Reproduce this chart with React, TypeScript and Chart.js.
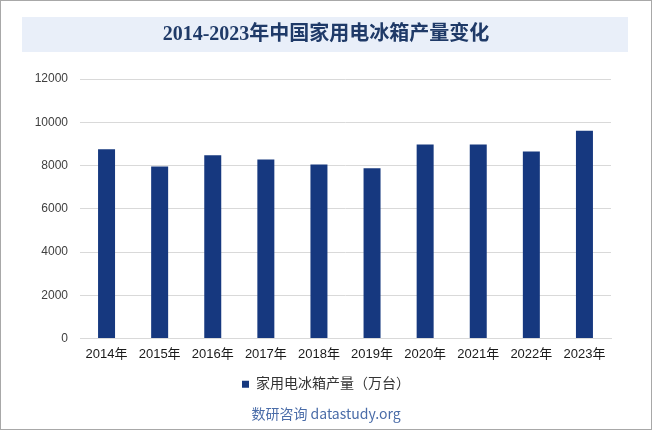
import React, { useEffect, useRef } from "react";
import { Chart, registerables } from "chart.js";

Chart.register(...registerables);

const categories = ["2014年", "2015年", "2016年", "2017年", "2018年", "2019年", "2020年", "2021年", "2022年", "2023年"];
const production = [8750, 7960, 8470, 8280, 8050, 7870, 8970, 8970, 8650, 9610];
const seriesName = "家用电冰箱产量（万台）";
const titleText = "2014-2023年中国家用电冰箱产量变化";
const footerText = "数研咨询 datastudy.org";
const yMax = 12000;
const yStep = 2000;

const SANS = "'Liberation Sans', Arial, 'Noto Sans CJK SC', sans-serif";

const bgPlugin = {
  id: "bgPlugin",
  beforeDraw(chart: any) {
    const { ctx, width, height } = chart;
    ctx.save();
    ctx.fillStyle = "#ffffff";
    ctx.fillRect(0, 0, width, height);
    ctx.fillStyle = "#e9eff9";
    ctx.fillRect(22, 17, 606, 35);
    ctx.strokeStyle = "#a8a8a8";
    ctx.lineWidth = 1;
    ctx.strokeRect(0.5, 0.5, width - 1, height - 1);
    ctx.restore();
  },
};

export default function App() {
  const ref = useRef<HTMLCanvasElement | null>(null);
  useEffect(() => {
    if (!ref.current) return;
    const chart = new Chart(ref.current, {
      type: "bar",
      data: {
        labels: categories,
        datasets: [
          {
            label: seriesName,
            data: production,
            backgroundColor: "#16387f",
            borderWidth: 0,
            categoryPercentage: 1,
            barPercentage: 0.32,
          },
        ],
      },
      options: {
        responsive: false,
        animation: false,
        devicePixelRatio: 1,
        layout: { padding: { left: 0, right: 0, top: 0, bottom: 0 } },
        plugins: {
          title: {
            display: true,
            text: titleText,
            color: "#1f3a68",
            font: { family: "'Liberation Serif', 'Noto Sans CJK SC', serif", size: 20, weight: "bold" },
            padding: { top: 23, bottom: 32 },
          },
          subtitle: {
            display: true,
            position: "bottom",
            text: footerText,
            color: "#4a6ca8",
            font: { family: "'Noto Sans CJK SC', 'Liberation Sans', sans-serif", size: 14, weight: "normal" },
            padding: { top: 4, bottom: 8 },
          },
          legend: {
            display: true,
            position: "bottom",
            labels: {
              color: "#333333",
              font: { family: SANS, size: 14 },
              boxWidth: 7,
              boxHeight: 7,
              padding: 7,
            },
          },
          tooltip: { enabled: false },
        },
        scales: {
          x: {
            grid: { display: false, drawTicks: false },
            border: { display: true, color: "#d9d9d9" },
            ticks: { color: "#1a1a1a", font: { family: SANS, size: 13 }, padding: 8, maxRotation: 0, autoSkip: false },
          },
          y: {
            min: 0,
            max: yMax,
            afterFit(scale: any) {
              scale.width = 80;
            },
            grid: { color: "#d9d9d9", drawTicks: false },
            border: { display: false },
            ticks: {
              stepSize: yStep,
              color: "#404040",
              font: { family: SANS, size: 12 },
              padding: 12,
              callback: (v: any) => String(v),
            },
          },
          yRight: {
            position: "right",
            display: true,
            afterFit(scale: any) {
              scale.width = 41;
            },
            grid: { display: false, drawTicks: false },
            border: { display: false },
            ticks: { display: false },
          },
        },
      },
      plugins: [bgPlugin],
    });
    return () => chart.destroy();
  }, []);
  return (
    <div style={{ position: "fixed", left: 0, top: 0, width: 652, height: 430 }}>
      <canvas ref={ref} width={652} height={430} style={{ display: "block" }} />
    </div>
  );
}
